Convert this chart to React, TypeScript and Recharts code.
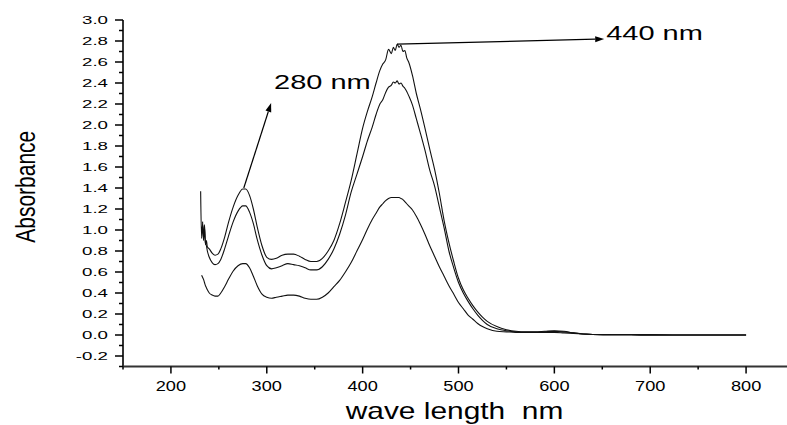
import { LineChart, Line, XAxis, YAxis, ReferenceLine } from 'recharts'

// wavelength grid (nm) and absorbance of the three samples
const WAVELENGTH = [
  231, 232, 233, 234, 235, 236, 237, 238, 240, 243, 246, 249, 252, 256, 260, 265, 270, 275, 278, 282,
  286, 290, 295, 300, 305, 310, 316, 322, 328, 334, 340, 346, 352, 358, 364, 370, 376, 382, 388, 394,
  400, 405, 410, 414, 418, 421, 424, 427, 430, 432, 434, 436, 438, 440, 442, 444, 446, 448, 452, 456,
  460, 465, 470, 475, 480, 485, 490, 495, 500, 505, 510, 515, 520, 525, 530, 540, 550, 560, 570, 580,
  590, 600, 610, 620, 630, 640, 660, 680, 700, 750, 800
]

const SAMPLE_A = [
  1.37, 0.92, 1.06, 0.9, 1.02, 0.86, 0.9, 0.84, 0.82, 0.78, 0.76, 0.77, 0.82, 0.93, 1.07, 1.22, 1.33, 1.39, 1.39, 1.33,
  1.2, 1.03, 0.85, 0.74, 0.72, 0.73, 0.76, 0.77, 0.77, 0.75, 0.72, 0.7, 0.7, 0.73, 0.8, 0.9, 1.06, 1.26, 1.47, 1.72,
  1.97, 2.13, 2.27, 2.4, 2.52, 2.58, 2.62, 2.72, 2.68, 2.74, 2.71, 2.77, 2.74, 2.76, 2.7, 2.71, 2.64, 2.6, 2.47, 2.3,
  2.16, 1.97, 1.77, 1.58, 1.35, 1.09, 0.88, 0.7, 0.54, 0.43, 0.35, 0.28, 0.22, 0.17, 0.13, 0.08, 0.05, 0.035, 0.03, 0.03,
  0.035, 0.04, 0.035, 0.02, 0.01, 0.005, 0.003, 0.002, 0.001, 0, 0
]

const SAMPLE_B = [
  null, null, 1.08, 0.95, 1.05, 0.88, 0.85, 0.8, 0.74, 0.69, 0.67, 0.68, 0.72, 0.82, 0.94, 1.08, 1.18, 1.23, 1.23, 1.17,
  1.06, 0.91, 0.76, 0.66, 0.63, 0.64, 0.66, 0.68, 0.67, 0.66, 0.64, 0.62, 0.62, 0.65, 0.72, 0.82, 0.96, 1.14, 1.36, 1.53,
  1.7, 1.85, 1.98, 2.1, 2.2, 2.24, 2.31, 2.36, 2.38, 2.41, 2.4, 2.42, 2.39, 2.4, 2.37, 2.35, 2.32, 2.28, 2.19, 2.06,
  1.93, 1.76, 1.57, 1.42, 1.22, 1.02, 0.8, 0.64, 0.5, 0.4, 0.32, 0.25, 0.19, 0.14, 0.1, 0.06, 0.04, 0.03, 0.025, 0.025,
  0.03, 0.035, 0.03, 0.02, 0.01, 0.005, 0.003, 0.002, 0.001, 0, 0
]

const SAMPLE_C = [
  null, 0.57, 0.55, 0.53, 0.5, 0.47, 0.45, 0.43, 0.4, 0.38, 0.37, 0.37, 0.4, 0.46, 0.53, 0.61, 0.66, 0.68, 0.68, 0.64,
  0.56, 0.47, 0.39, 0.36, 0.35, 0.36, 0.37, 0.38, 0.38, 0.37, 0.35, 0.34, 0.34, 0.36, 0.4, 0.46, 0.52, 0.6, 0.69, 0.8,
  0.91, 1.01, 1.1, 1.16, 1.22, 1.25, 1.28, 1.3, 1.31, 1.31, 1.31, 1.31, 1.31, 1.3, 1.29, 1.27, 1.25, 1.23, 1.19, 1.13,
  1.06, 0.96, 0.85, 0.75, 0.65, 0.56, 0.47, 0.39, 0.31, 0.25, 0.19, 0.15, 0.11, 0.08, 0.06, 0.035, 0.03, 0.025, 0.025, 0.025,
  0.025, 0.025, 0.02, 0.015, 0.01, 0.005, 0.003, 0.002, 0.001, 0, 0
]

const X_TICKS = [150, 200, 250, 300, 350, 400, 450, 500, 550, 600, 650, 700, 750, 800]
const Y_TICKS = [
  -0.3, -0.2, -0.1, 0, 0.1, 0.2, 0.3, 0.4, 0.5, 0.6, 0.7, 0.8, 0.9, 1.0, 1.1, 1.2, 1.3, 1.4, 1.5, 1.6,
  1.7, 1.8, 1.9, 2.0, 2.1, 2.2, 2.3, 2.4, 2.5, 2.6, 2.7, 2.8, 2.9, 3.0
]

// peak annotations: [from, to] in data units
const PEAK_440 = [{ x: 436, y: 2.77 }, { x: 652, y: 2.82 }]
const PEAK_280 = [{ x: 276, y: 1.4 }, { x: 304.5, y: 2.21 }]

const data = WAVELENGTH.map((nm, i) => ({
  nm,
  a: SAMPLE_A[i],
  b: SAMPLE_B[i],
  c: SAMPLE_C[i]
}))

const FONT = 'Liberation Sans, Arial, Helvetica, sans-serif'

const YTick = (props: any) => {
  const { x, y, payload } = props
  const v = payload.value
  const major = Math.round(v * 10) % 2 === 0
  return (
    <g>
      <line x1={x - (major ? 8 : 4)} x2={x} y1={y} y2={y} stroke="#000" strokeWidth={1.5} />
      {major && v > -0.25 && (
        <text
          transform={`translate(${x - 15},${y}) scale(1.7,1)`}
          textAnchor="end"
          dominantBaseline="central"
          fontSize={11}
          fontFamily={FONT}
          fill="#000"
        >
          {v.toFixed(1)}
        </text>
      )}
    </g>
  )
}

const XTick = (props: any) => {
  const { x, y, payload } = props
  const v = payload.value
  const major = v % 100 === 0
  return (
    <g>
      <line x1={x} x2={x} y1={y} y2={y + (major ? 7 : 3)} stroke="#000" strokeWidth={1.5} />
      {major && (
        <text
          transform={`translate(${x},${y + 19}) scale(1.3,1)`}
          textAnchor="middle"
          dominantBaseline="central"
          fontSize={14}
          fontFamily={FONT}
          fill="#000"
        >
          {v}
        </text>
      )}
    </g>
  )
}

const arrow = (label: string, dx: number, dy: number) => (props: any) => {
  const { x1, y1, x2, y2 } = props
  const ang = Math.atan2(y2 - y1, x2 - x1)
  const len = 9
  const w = 3
  const bx = x2 - len * Math.cos(ang)
  const by = y2 - len * Math.sin(ang)
  const px = -Math.sin(ang) * w
  const py = Math.cos(ang) * w
  return (
    <g>
      <line x1={x1} y1={y1} x2={bx} y2={by} stroke="#000" strokeWidth={1.2} />
      <polygon points={`${x2},${y2} ${bx + px},${by + py} ${bx - px},${by - py}`} fill="#000" />
      <text
        transform={`translate(${x2 + dx},${y2 + dy}) scale(1.45,1)`}
        dominantBaseline="central"
        fontSize={20}
        fontFamily={FONT}
        fill="#000"
      >
        {label}
      </text>
    </g>
  )
}

export default function App() {
  return (
    <div style={{ position: 'fixed', left: 0, top: 0, width: 787, height: 425, overflow: 'hidden', background: '#fff' }}>
      <LineChart width={800} height={425} data={data} margin={{ top: 20, right: 6, bottom: 18.5, left: 0 }}>
        <XAxis
          dataKey="nm"
          type="number"
          domain={[150, 850]}
          ticks={X_TICKS}
          interval={0}
          tickSize={0}
          tickMargin={0}
          tick={<XTick />}
          height={40}
          axisLine={{ stroke: '#333', strokeWidth: 2 }}
          label={{
            content: (p: any) => {
              const vb = p.viewBox
              const cx = vb.x + vb.width / 2 - 4
              return (
                <text
                  transform={`translate(${cx},419) scale(1.3,1)`}
                  textAnchor="middle"
                  fontSize={23}
                  fontFamily={FONT}
                  fill="#000"
                  style={{ whiteSpace: 'pre' }}
                >
                  {'wave length  nm'}
                </text>
              )
            }
          }}
        />
        <YAxis
          type="number"
          domain={[-0.3, 3.0]}
          ticks={Y_TICKS}
          interval={0}
          tickSize={0}
          tickMargin={0}
          tick={<YTick />}
          width={123}
          axisLine={{ stroke: '#333', strokeWidth: 2 }}
          allowDataOverflow
          label={{
            content: (p: any) => {
              const vb = p.viewBox
              const cy = vb.y + vb.height / 2 - 6.5
              return (
                <text
                  transform={`translate(35,${cy}) rotate(-90) scale(1,1.3)`}
                  textAnchor="middle"
                  fontSize={21}
                  fontFamily={FONT}
                  fill="#000"
                >
                  Absorbance
                </text>
              )
            }
          }}
        />
        <Line type="monotone" dataKey="a" stroke="#111" strokeWidth={1.1} dot={false} isAnimationActive={false} connectNulls={false} />
        <Line type="monotone" dataKey="b" stroke="#111" strokeWidth={1.1} dot={false} isAnimationActive={false} connectNulls={false} />
        <Line type="monotone" dataKey="c" stroke="#111" strokeWidth={1.1} dot={false} isAnimationActive={false} connectNulls={false} />
        <ReferenceLine segment={PEAK_440} ifOverflow="visible" shape={arrow('440 nm', 2, -6)} />
        <ReferenceLine segment={PEAK_280} ifOverflow="visible" shape={arrow('280 nm', 3, -21)} />
      </LineChart>
    </div>
  )
}
